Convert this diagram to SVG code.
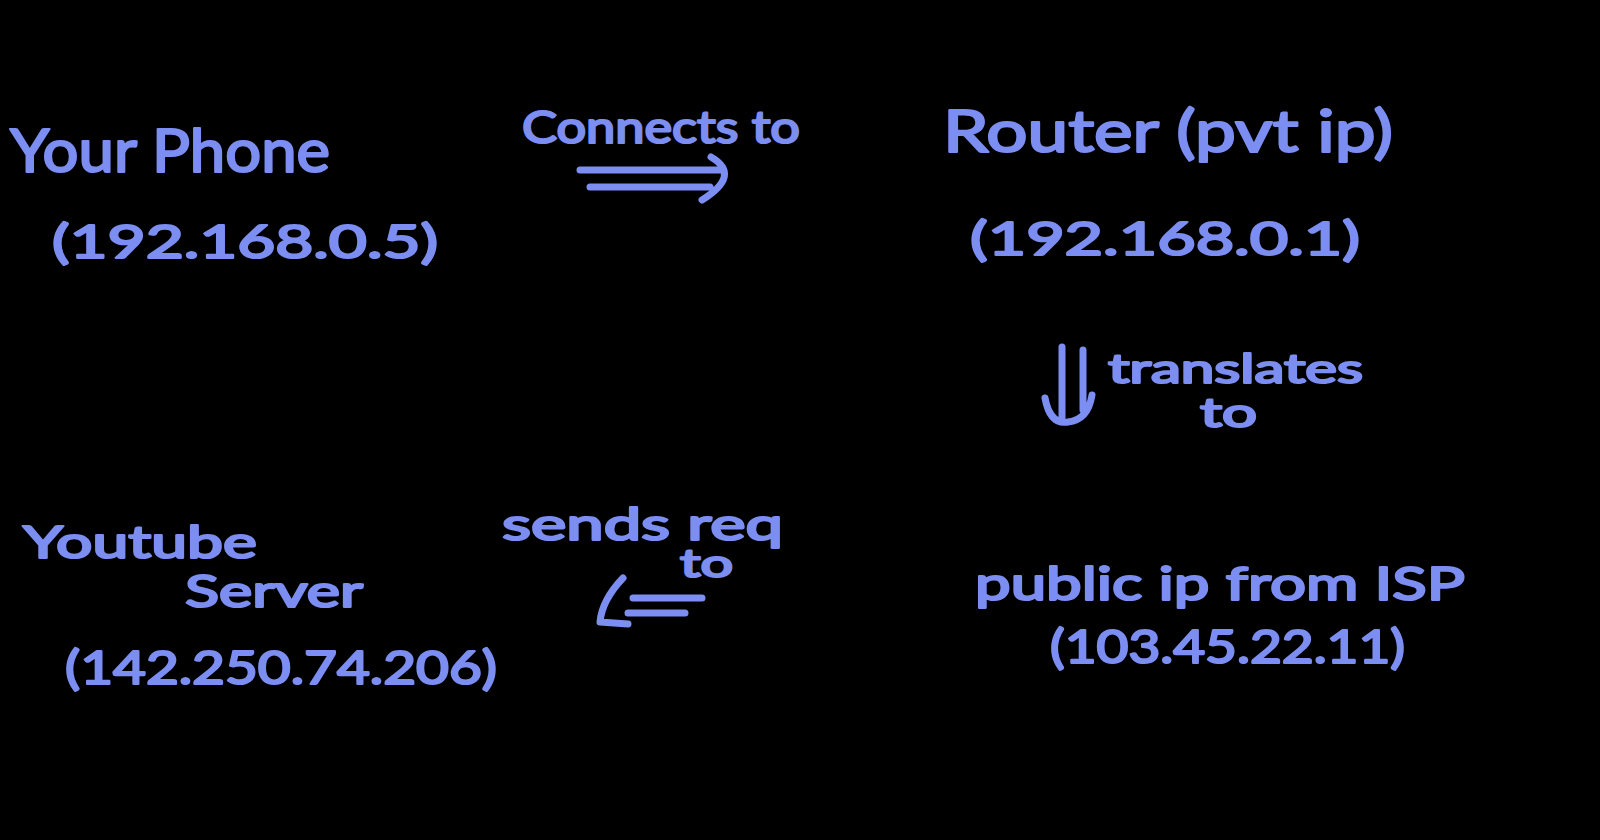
<svg xmlns="http://www.w3.org/2000/svg" width="1600" height="840" viewBox="0 0 1600 840">
<style>
.t{font-family:"Lato","Liberation Sans",sans-serif;fill:#7c8ef2;stroke:#7c8ef2;stroke-width:2.2;stroke-linejoin:round}
.s{fill:none;stroke:#7c8ef2;stroke-width:7;stroke-linecap:round;stroke-linejoin:round}
</style>
<rect width="1600" height="840" fill="#000"/>
<g id="phone">
<text class="t" x="10" y="172" font-size="60" textLength="320" lengthAdjust="spacingAndGlyphs">Your Phone</text>
<text class="t" x="52" y="258" font-size="46" textLength="386" lengthAdjust="spacingAndGlyphs">(192.168.0.5)</text>
</g>
<g id="router">
<text class="t" x="943" y="152" font-size="58" textLength="450" lengthAdjust="spacingAndGlyphs">Router (pvt ip)</text>
<text class="t" x="970" y="255" font-size="46" textLength="390" lengthAdjust="spacingAndGlyphs">(192.168.0.1)</text>
</g>
<g id="public-ip">
<text class="t" x="975" y="600" font-size="46" textLength="490" lengthAdjust="spacingAndGlyphs">public ip from ISP</text>
<text class="t" x="1050" y="663" font-size="46" textLength="355" lengthAdjust="spacingAndGlyphs">(103.45.22.11)</text>
</g>
<g id="youtube">
<text class="t" x="23" y="558" font-size="44" textLength="234" lengthAdjust="spacingAndGlyphs">Youtube</text>
<text class="t" x="185" y="607" font-size="44" textLength="178" lengthAdjust="spacingAndGlyphs">Server</text>
<text class="t" x="65" y="684" font-size="46" textLength="432" lengthAdjust="spacingAndGlyphs">(142.250.74.206)</text>
</g>
<g id="connectors">
<g id="connects-to">
<path class="s" d="M580 170 H720 M590 187 H710 M711 157 Q742 175 702 200"/>
<text class="t" x="522" y="143" font-size="44" textLength="278" lengthAdjust="spacingAndGlyphs">Connects to</text>
</g>
<g id="translates-to">
<path class="s" d="M1062 347 V418 M1083 350 V410 M1045 398 Q1050 425 1068 422 Q1088 420 1092 395"/>
<text class="t" x="1108" y="383" font-size="40" textLength="255" lengthAdjust="spacingAndGlyphs">translates</text>
<text class="t" x="1200" y="427" font-size="40" textLength="57" lengthAdjust="spacingAndGlyphs">to</text>
</g>
<g id="sends-req">
<path class="s" d="M633 598 H702 M628 613 H685 M623 578 Q602 600 600 622 L628 624"/>
<text class="t" x="502" y="540" font-size="44" textLength="281" lengthAdjust="spacingAndGlyphs">sends req</text>
<text class="t" x="680" y="577" font-size="38" textLength="53" lengthAdjust="spacingAndGlyphs">to</text>
</g>
</g>
</svg>
